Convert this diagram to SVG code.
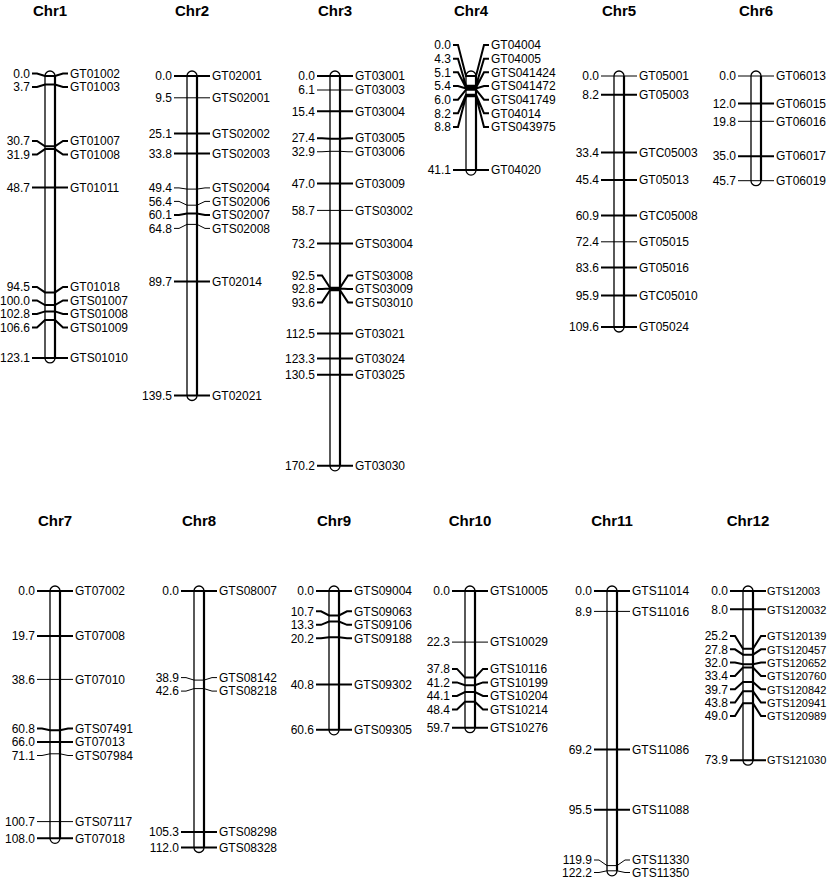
<svg xmlns="http://www.w3.org/2000/svg" width="830" height="879" viewBox="0 0 830 879">
<style>
text{font-family:"Liberation Sans",Arial,sans-serif;font-size:12px;fill:#000}
.n{text-anchor:end}
.s text{font-size:11px}
.h{font-size:15px;font-weight:bold;text-anchor:middle}
.rod{fill:#fff;stroke:#000;stroke-width:1.3}
.re{stroke:#000;stroke-width:2.2}
path{fill:none;stroke:#000;stroke-width:2}
path.t{stroke-width:1}
</style>
<rect width="830" height="879" fill="#fff"/>

<g id="chr1">
<text class="h" x="50" y="16">Chr1</text>
<rect class="rod" x="45" y="71" width="10" height="291.9" rx="5"/><line class="re" x1="55" y1="76" x2="55" y2="357.9"/>
<path d="M32 73.5H37L45 76H55L63 73.5H68M32 87H37L45 84.5H55L63 87H68M32 141H37L45 146.3H55L63 141H68M32 154.5H37L45 149.1H55L63 154.5H68M32 187.5H68M32 287H37L45 292.4H55L63 287H68M32 300.5H37L45 305H55L63 300.5H68M32 314H37L45 311.4H55L63 314H68M32 327.5H37L45 320.1H55L63 327.5H68M32 357.9H68"/>
<g class="n"><text x="30" y="77.7">0.0</text><text x="30" y="91.2">3.7</text><text x="30" y="145.2">30.7</text><text x="30" y="158.7">31.9</text><text x="30" y="191.7">48.7</text><text x="30" y="291.2">94.5</text><text x="30" y="304.7">100.0</text><text x="30" y="318.2">102.8</text><text x="30" y="331.7">106.6</text><text x="30" y="362.1">123.1</text></g>
<text x="70" y="77.7">GT01002</text><text x="70" y="91.2">GT01003</text><text x="70" y="145.2">GT01007</text><text x="70" y="158.7">GT01008</text><text x="70" y="191.7">GT01011</text><text x="70" y="291.2">GT01018</text><text x="70" y="304.7">GTS01007</text><text x="70" y="318.2">GTS01008</text><text x="70" y="331.7">GTS01009</text><text x="70" y="362.1">GTS01010</text>
</g>

<g id="chr2">
<text class="h" x="192" y="16">Chr2</text>
<rect class="rod" x="187" y="71" width="10" height="329.5" rx="5"/><line class="re" x1="197" y1="76" x2="197" y2="395.5"/>
<path d="M174 76H210M174 133.5H210M174 153.4H210M174 214.9H179L187 213.6H197L205 214.9H210M174 281.4H210M174 395.5H210"/>
<path class="t" d="M174 97.8H210M174 187.9H179L187 189.1H197L205 187.9H210M174 201.4H179L187 205.2H197L205 201.4H210M174 228.4H179L187 224.4H197L205 228.4H210"/>
<g class="n"><text x="172" y="80.2">0.0</text><text x="172" y="102">9.5</text><text x="172" y="137.7">25.1</text><text x="172" y="157.6">33.8</text><text x="172" y="192.1">49.4</text><text x="172" y="205.6">56.4</text><text x="172" y="219.1">60.1</text><text x="172" y="232.6">64.8</text><text x="172" y="285.6">89.7</text><text x="172" y="399.7">139.5</text></g>
<text x="212" y="80.2">GT02001</text><text x="212" y="102">GTS02001</text><text x="212" y="137.7">GTS02002</text><text x="212" y="157.6">GTS02003</text><text x="212" y="192.1">GTS02004</text><text x="212" y="205.6">GTS02006</text><text x="212" y="219.1">GTS02007</text><text x="212" y="232.6">GTS02008</text><text x="212" y="285.6">GT02014</text><text x="212" y="399.7">GT02021</text>
</g>

<g id="chr3">
<text class="h" x="335" y="16">Chr3</text>
<rect class="rod" x="330" y="71" width="10" height="399.8" rx="5"/><line class="re" x1="340" y1="76" x2="340" y2="465.8"/>
<path d="M317 76H353M317 111.3H353M317 138.25H322L330 138.7H340L348 138.25H353M317 183.6H353M317 243.6H353M317 275.4H322L330 287.8H340L348 275.4H353M317 288.9H322L330 288.5H340L348 288.9H353M317 302.4H322L330 290.3H340L348 302.4H353M317 333.6H353M317 358.4H353M317 374.8H353M317 465.8H353"/>
<path class="t" d="M317 90H353M317 151.75H322L330 151.3H340L348 151.75H353M317 210.4H353"/>
<g class="n"><text x="315" y="80.2">0.0</text><text x="315" y="94.2">6.1</text><text x="315" y="115.5">15.4</text><text x="315" y="142.45">27.4</text><text x="315" y="155.95">32.9</text><text x="315" y="187.8">47.0</text><text x="315" y="214.6">58.7</text><text x="315" y="247.8">73.2</text><text x="315" y="279.6">92.5</text><text x="315" y="293.1">92.8</text><text x="315" y="306.6">93.6</text><text x="315" y="337.8">112.5</text><text x="315" y="362.6">123.3</text><text x="315" y="379">130.5</text><text x="315" y="470">170.2</text></g>
<text x="355" y="80.2">GT03001</text><text x="355" y="94.2">GT03003</text><text x="355" y="115.5">GT03004</text><text x="355" y="142.45">GT03005</text><text x="355" y="155.95">GT03006</text><text x="355" y="187.8">GT03009</text><text x="355" y="214.6">GTS03002</text><text x="355" y="247.8">GTS03004</text><text x="355" y="279.6">GTS03008</text><text x="355" y="293.1">GTS03009</text><text x="355" y="306.6">GTS03010</text><text x="355" y="337.8">GT03021</text><text x="355" y="362.6">GT03024</text><text x="355" y="379">GT03025</text><text x="355" y="470">GT03030</text>
</g>

<g id="chr4">
<text class="h" x="471" y="16">Chr4</text>
<rect class="rod" x="466" y="71" width="10" height="104.1" rx="5"/><line class="re" x1="476" y1="76" x2="476" y2="170.1"/>
<path d="M453 45H458L466 76H476L484 45H489M453 58.7H458L466 85.8H476L484 58.7H489M453 72.3H458L466 87.7H476L484 72.3H489M453 86H458L466 88.4H476L484 86H489M453 99.7H458L466 89.7H476L484 99.7H489M453 113.3H458L466 94.8H476L484 113.3H489M453 127H458L466 96.2H476L484 127H489M453 170.1H489"/>
<g class="n"><text x="451" y="49.2">0.0</text><text x="451" y="62.9">4.3</text><text x="451" y="76.5">5.1</text><text x="451" y="90.2">5.4</text><text x="451" y="103.9">6.0</text><text x="451" y="117.5">8.2</text><text x="451" y="131.2">8.8</text><text x="451" y="174.3">41.1</text></g>
<text x="491" y="49.2">GT04004</text><text x="491" y="62.9">GT04005</text><text x="491" y="76.5">GTS041424</text><text x="491" y="90.2">GTS041472</text><text x="491" y="103.9">GTS041749</text><text x="491" y="117.5">GT04014</text><text x="491" y="131.2">GTS043975</text><text x="491" y="174.3">GT04020</text>
</g>

<g id="chr5">
<text class="h" x="619" y="16">Chr5</text>
<rect class="rod" x="614" y="71" width="10" height="261" rx="5"/><line class="re" x1="624" y1="76" x2="624" y2="327"/>
<path d="M601 94.8H637M601 152.5H637M601 180H637M601 215.5H637M601 267.4H637M601 295.6H637M601 327H637"/>
<path class="t" d="M601 76H637M601 241.8H637"/>
<g class="n"><text x="599" y="80.2">0.0</text><text x="599" y="99">8.2</text><text x="599" y="156.7">33.4</text><text x="599" y="184.2">45.4</text><text x="599" y="219.7">60.9</text><text x="599" y="246">72.4</text><text x="599" y="271.6">83.6</text><text x="599" y="299.8">95.9</text><text x="599" y="331.2">109.6</text></g>
<text x="639" y="80.2">GT05001</text><text x="639" y="99">GT05003</text><text x="639" y="156.7">GTC05003</text><text x="639" y="184.2">GT05013</text><text x="639" y="219.7">GTC05008</text><text x="639" y="246">GT05015</text><text x="639" y="271.6">GT05016</text><text x="639" y="299.8">GTC05010</text><text x="639" y="331.2">GT05024</text>
</g>

<g id="chr6">
<text class="h" x="756" y="16">Chr6</text>
<rect class="rod" x="751" y="71" width="10" height="114.7" rx="5"/><line class="re" x1="761" y1="76" x2="761" y2="180.7"/>
<path d="M738 103.5H774M738 156.2H774"/>
<path class="t" d="M738 76H774M738 121.3H774M738 180.7H774"/>
<g class="n"><text x="736" y="80.2">0.0</text><text x="736" y="107.7">12.0</text><text x="736" y="125.5">19.8</text><text x="736" y="160.4">35.0</text><text x="736" y="184.9">45.7</text></g>
<text x="776" y="80.2">GT06013</text><text x="776" y="107.7">GT06015</text><text x="776" y="125.5">GT06016</text><text x="776" y="160.4">GT06017</text><text x="776" y="184.9">GT06019</text>
</g>

<g id="chr7">
<text class="h" x="55" y="526">Chr7</text>
<rect class="rod" x="50" y="586" width="10" height="257.3" rx="5"/><line class="re" x1="60" y1="591" x2="60" y2="838.3"/>
<path d="M37 591H73M37 636.1H73M37 728.5H42L50 730.2H60L68 728.5H73M37 742H73M37 838.3H73"/>
<path class="t" d="M37 679.4H73M37 755.5H42L50 753.8H60L68 755.5H73M37 821.6H73"/>
<g class="n"><text x="35" y="595.2">0.0</text><text x="35" y="640.3">19.7</text><text x="35" y="683.6">38.6</text><text x="35" y="732.7">60.8</text><text x="35" y="746.2">66.0</text><text x="35" y="759.7">71.1</text><text x="35" y="825.8">100.7</text><text x="35" y="842.5">108.0</text></g>
<text x="75" y="595.2">GT07002</text><text x="75" y="640.3">GT07008</text><text x="75" y="683.6">GT07010</text><text x="75" y="732.7">GTS07491</text><text x="75" y="746.2">GT07013</text><text x="75" y="759.7">GTS07984</text><text x="75" y="825.8">GTS07117</text><text x="75" y="842.5">GT07018</text>
</g>

<g id="chr8">
<text class="h" x="199" y="526">Chr8</text>
<rect class="rod" x="194" y="586" width="10" height="266.5" rx="5"/><line class="re" x1="204" y1="591" x2="204" y2="847.5"/>
<path d="M181 591H217M181 832.1H217M181 847.5H217"/>
<path class="t" d="M181 677.6H186L194 680.1H204L212 677.6H217M181 691.1H186L194 688.6H204L212 691.1H217"/>
<g class="n"><text x="179" y="595.2">0.0</text><text x="179" y="681.8">38.9</text><text x="179" y="695.3">42.6</text><text x="179" y="836.3">105.3</text><text x="179" y="851.7">112.0</text></g>
<text x="219" y="595.2">GTS08007</text><text x="219" y="681.8">GTS08142</text><text x="219" y="695.3">GTS08218</text><text x="219" y="836.3">GTS08298</text><text x="219" y="851.7">GTS08328</text>
</g>

<g id="chr9">
<text class="h" x="334" y="526">Chr9</text>
<rect class="rod" x="329" y="586" width="10" height="148.8" rx="5"/><line class="re" x1="339" y1="591" x2="339" y2="729.8"/>
<path d="M316 591H352M316 611.3H321L329 615.5H339L347 611.3H352M316 624.8H321L329 621.5H339L347 624.8H352M316 638.3H321L329 637.3H339L347 638.3H352M316 684.4H352M316 729.8H352"/>
<g class="n"><text x="314" y="595.2">0.0</text><text x="314" y="615.5">10.7</text><text x="314" y="629">13.3</text><text x="314" y="642.5">20.2</text><text x="314" y="688.6">40.8</text><text x="314" y="734">60.6</text></g>
<text x="354" y="595.2">GTS09004</text><text x="354" y="615.5">GTS09063</text><text x="354" y="629">GTS09106</text><text x="354" y="642.5">GTS09188</text><text x="354" y="688.6">GTS09302</text><text x="354" y="734">GTS09305</text>
</g>

<g id="chr10">
<text class="h" x="470" y="526">Chr10</text>
<rect class="rod" x="465" y="586" width="10" height="146.7" rx="5"/><line class="re" x1="475" y1="591" x2="475" y2="727.7"/>
<path d="M452 591H488M452 668.9H457L465 677.6H475L483 668.9H488M452 682.4H457L465 685.3H475L483 682.4H488M452 695.9H457L465 692H475L483 695.9H488M452 709.4H457L465 701.8H475L483 709.4H488M452 727.7H488"/>
<path class="t" d="M452 642.1H488"/>
<g class="n"><text x="450" y="595.2">0.0</text><text x="450" y="646.3">22.3</text><text x="450" y="673.1">37.8</text><text x="450" y="686.6">41.2</text><text x="450" y="700.1">44.1</text><text x="450" y="713.6">48.4</text><text x="450" y="731.9">59.7</text></g>
<text x="490" y="595.2">GTS10005</text><text x="490" y="646.3">GTS10029</text><text x="490" y="673.1">GTS10116</text><text x="490" y="686.6">GTS10199</text><text x="490" y="700.1">GTS10204</text><text x="490" y="713.6">GTS10214</text><text x="490" y="731.9">GTS10276</text>
</g>

<g id="chr11">
<text class="h" x="612" y="526">Chr11</text>
<rect class="rod" x="607" y="586" width="10" height="289.8" rx="5"/><line class="re" x1="617" y1="591" x2="617" y2="870.8"/>
<path d="M594 591H630M594 749.5H630M594 809.7H630"/>
<path class="t" d="M594 611.4H630M594 860H599L607 865.6H617L625 860H630M594 872.5H599L607 870.8H617L625 872.5H630"/>
<g class="n"><text x="592" y="595.2">0.0</text><text x="592" y="615.6">8.9</text><text x="592" y="753.7">69.2</text><text x="592" y="813.9">95.5</text><text x="592" y="864">119.9</text><text x="592" y="876.5">122.2</text></g>
<text x="632" y="595.2">GTS11014</text><text x="632" y="615.6">GTS11016</text><text x="632" y="753.7">GTS11086</text><text x="632" y="813.9">GTS11088</text><text x="632" y="864">GTS11330</text><text x="632" y="876.5">GTS11350</text>
</g>

<g id="chr12">
<text class="h" x="748" y="526">Chr12</text>
<rect class="rod" x="743" y="586" width="10" height="179.2" rx="5"/><line class="re" x1="753" y1="591" x2="753" y2="760.2"/>
<path d="M730 591H766M730 609.3H766M730 636H735L743 648.7H753L761 636H766M730 649.3H735L743 654.7H753L761 649.3H766M730 662.6H735L743 664.3H753L761 662.6H766M730 676H735L743 667.5H753L761 676H766M730 689.3H735L743 681.9H753L761 689.3H766M730 702.6H735L743 691.3H753L761 702.6H766M730 716H735L743 703.2H753L761 716H766M730 760.2H766"/>
<g class="n"><text x="728" y="595.2">0.0</text><text x="728" y="613.5">8.0</text><text x="728" y="640.2">25.2</text><text x="728" y="653.5">27.8</text><text x="728" y="666.8">32.0</text><text x="728" y="680.2">33.4</text><text x="728" y="693.5">39.7</text><text x="728" y="706.8">43.8</text><text x="728" y="720.2">49.0</text><text x="728" y="764.4">73.9</text></g>
<g class="s"><text x="767" y="595.2">GTS12003</text><text x="767" y="613.5">GTS120032</text><text x="767" y="640.2">GTS120139</text><text x="767" y="653.5">GTS120457</text><text x="767" y="666.8">GTS120652</text><text x="767" y="680.2">GTS120760</text><text x="767" y="693.5">GTS120842</text><text x="767" y="706.8">GTS120941</text><text x="767" y="720.2">GTS120989</text><text x="767" y="764.4">GTS121030</text></g>
</g>
</svg>
